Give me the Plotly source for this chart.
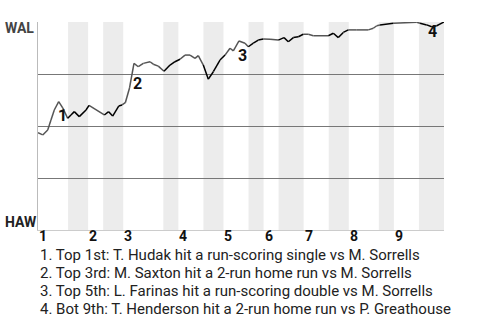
import plotly.graph_objects as go

# Half-inning boundaries (plate-appearance index)
half_bounds = [0, 6, 10, 13, 17, 25, 28, 33, 37, 42, 45, 48, 53, 58, 62, 68, 71, 76, 81]
inning_labels = ["1", "2", "3", "4", "5", "6", "7", "8", "9"]

# Win probability for WAL
wp_x = [0, 0.94, 1.94, 2.59, 3.25, 4.13, 4.93, 5.93, 6.58, 7.24, 8.24, 9.58, 10.18,
        13.23, 14.1, 14.9, 16.1, 16.76, 17.42, 18.26, 19.15, 20.01, 21.01, 22.35, 23.0,
        24.0, 25.14, 26.34, 27.33, 28.33, 29.33, 30.33, 31.32, 31.98, 32.98, 33.98,
        34.98, 36.31, 37.31, 38.31, 38.97, 40.1, 41.3, 41.96, 42.96, 43.95, 44.95,
        46.29, 47.94, 49.08, 49.94, 50.94, 51.94, 52.93, 53.93, 54.93, 57.92, 58.92,
        59.92, 60.91, 61.91, 63.59, 65.9, 66.9, 67.58, 68.24, 70.89, 75.56, 76.22,
        77.55, 78.55, 79.55, 81]
wp_y = [0.468, 0.457, 0.481, 0.529, 0.577, 0.617, 0.587, 0.537, 0.553, 0.569, 0.545,
        0.577, 0.599, 0.553, 0.569, 0.548, 0.596, 0.601, 0.612, 0.683, 0.801, 0.785,
        0.801, 0.809, 0.797, 0.788, 0.763, 0.793, 0.809, 0.821, 0.841, 0.841, 0.825,
        0.838, 0.793, 0.725, 0.761, 0.817, 0.841, 0.874, 0.861, 0.909, 0.898, 0.881,
        0.898, 0.913, 0.918, 0.917, 0.913, 0.925, 0.905, 0.925, 0.929, 0.941, 0.941,
        0.934, 0.934, 0.946, 0.925, 0.950, 0.962, 0.962, 0.962, 0.970, 0.982, 0.986,
        0.994, 0.999, 0.994, 0.986, 0.977, 0.982, 1.0]

# Key events
event_labels = ["1", "2", "3", "4"]
event_x = [4.89, 19.85, 40.76, 78.61]
event_y = [0.550, 0.705, 0.841, 0.954]
event_texts = [
    "1. Top 1st: T. Hudak hit a run-scoring single vs M. Sorrells",
    "2. Top 3rd: M. Saxton hit a 2-run home run vs M. Sorrells",
    "3. Top 5th: L. Farinas hit a run-scoring double vs M. Sorrells",
    "4. Bot 9th: T. Henderson hit a 2-run home run vs P. Greathouse",
]
team_top, team_bottom = "WAL", "HAW"

fig = go.Figure()

# Split line into top-half (gray) and bottom-half (black) segments
def is_bottom(xm):
    for i in range(len(half_bounds) - 1):
        if half_bounds[i] <= xm <= half_bounds[i + 1]:
            return i % 2 == 1
    return False

segs = {True: ([], []), False: ([], [])}
for i in range(len(wp_x) - 1):
    b = is_bottom((wp_x[i] + wp_x[i + 1]) / 2)
    xs, ys = segs[b]
    xs += [wp_x[i], wp_x[i + 1], None]
    ys += [wp_y[i], wp_y[i + 1], None]

fig.add_trace(go.Scatter(x=segs[False][0], y=segs[False][1], mode="lines",
                         line=dict(color="#555555", width=1.5), hoverinfo="skip",
                         showlegend=False))
fig.add_trace(go.Scatter(x=segs[True][0], y=segs[True][1], mode="lines",
                         line=dict(color="#000000", width=1.5), hoverinfo="skip",
                         showlegend=False))

# Bottom-half bands
shapes = []
for i in range(1, len(half_bounds) - 1, 2):
    shapes.append(dict(type="rect", xref="x", yref="y", x0=half_bounds[i],
                       x1=half_bounds[i + 1], y0=0, y1=1, fillcolor="#ececec",
                       line=dict(width=0), layer="below"))

annotations = []
# Inning labels
for k, lab in enumerate(inning_labels):
    annotations.append(dict(x=half_bounds[2 * k], y=(230 - 236) / 208, xref="x",
                            yref="paper", text=lab, showarrow=False, xanchor="left",
                            yanchor="middle", xshift=-1,
                            font=dict(family="Roboto", size=14, color="#111111",
                                      weight="bold")))
# Event markers
for lab, ex, ey in zip(event_labels, event_x, event_y):
    annotations.append(dict(x=ex, y=ey, xref="x", yref="y", text=lab, showarrow=False,
                            xanchor="center", yanchor="middle",
                            font=dict(family="Roboto", size=16, color="#111111",
                                      weight="bold")))
# Team labels
annotations.append(dict(x=-0.0862, y=0.969, xref="paper", yref="paper", text=team_top,
                        showarrow=False, xanchor="left", yanchor="middle",
                        font=dict(family="Roboto", size=14, color="#444444",
                                  weight="bold")))
annotations.append(dict(x=-0.0862, y=0.038, xref="paper", yref="paper", text=team_bottom,
                        showarrow=False, xanchor="left", yanchor="middle",
                        font=dict(family="Roboto", size=14, color="#222222",
                                  weight="bold")))
# Event descriptions
for j, t in enumerate(event_texts):
    py = 254.8 + 18.1 * j
    annotations.append(dict(x=0, y=(230 - py) / 208, xref="paper", yref="paper",
                            text=t, showarrow=False, xanchor="left", yanchor="middle",
                            font=dict(family="Roboto", size=15, color="#222222")))

fig.update_layout(
    width=480, height=320,
    margin=dict(l=38, r=36, t=22, b=90),
    paper_bgcolor="white", plot_bgcolor="white",
    shapes=shapes, annotations=annotations,
    xaxis=dict(range=[0, 81], showgrid=False, zeroline=False, showticklabels=False,
               showline=True, linecolor="#cccccc", linewidth=1, ticks=""),
    yaxis=dict(range=[0, 1], tickvals=[0.25, 0.5, 0.75, 1.0], showgrid=True,
               gridcolor="#777777", gridwidth=1, zeroline=False,
               showticklabels=False, showline=True, linecolor="#bbbbbb",
               linewidth=1, ticks=""),
)

fig.write_html("out.html")
